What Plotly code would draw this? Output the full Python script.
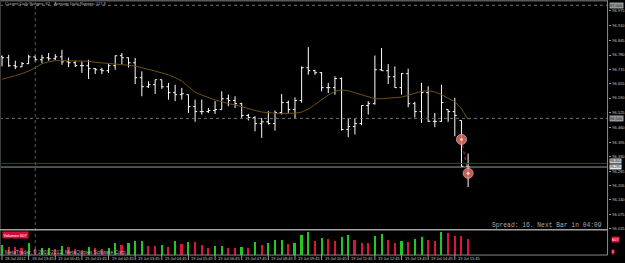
import plotly.graph_objects as go

W, H = 625, 263

# ---------------- data ----------------
bar_index = list(range(71))
open_ = [96.774, 96.768, 96.733, 96.728, 96.742, 96.772, 96.759, 96.768, 96.764, 96.772,
         96.750, 96.746, 96.733, 96.733, 96.720, 96.715, 96.711, 96.733, 96.777, 96.768,
         96.746, 96.680, 96.640, 96.649, 96.671, 96.640, 96.614, 96.605, 96.605, 96.552,
         96.530, 96.530, 96.535, 96.539, 96.587, 96.579, 96.565, 96.513, 96.504, 96.477,
         96.485, 96.477, 96.526, 96.570, 96.539, 96.579, 96.724, 96.711, 96.702, 96.636,
         96.636, 96.676, 96.451, 96.464, 96.477, 96.557, 96.565, 96.715, 96.711, 96.684,
         96.636, 96.698, 96.565, 96.530, 96.614, 96.487, 96.487, 96.539, 96.530, 96.491,
         96.288]
high = [96.778, 96.781, 96.755, 96.749, 96.781, 96.781, 96.781, 96.789, 96.784, 96.803,
        96.769, 96.755, 96.752, 96.759, 96.723, 96.723, 96.740, 96.778, 96.789, 96.769,
        96.767, 96.708, 96.664, 96.671, 96.671, 96.657, 96.649, 96.635, 96.605, 96.583,
        96.583, 96.546, 96.576, 96.620, 96.605, 96.598, 96.569, 96.520, 96.509, 96.502,
        96.532, 96.535, 96.608, 96.579, 96.593, 96.730, 96.815, 96.715, 96.705, 96.657,
        96.686, 96.681, 96.502, 96.499, 96.558, 96.576, 96.778, 96.811, 96.740, 96.730,
        96.701, 96.720, 96.573, 96.657, 96.642, 96.524, 96.649, 96.539, 96.591, 96.491,
        96.344]
low = [96.730, 96.728, 96.718, 96.727, 96.740, 96.749, 96.745, 96.755, 96.758, 96.737,
       96.727, 96.727, 96.701, 96.674, 96.696, 96.696, 96.701, 96.715, 96.740, 96.725,
       96.652, 96.598, 96.635, 96.608, 96.631, 96.583, 96.576, 96.583, 96.524, 96.485,
       96.517, 96.524, 96.520, 96.539, 96.554, 96.546, 96.502, 96.491, 96.443, 96.414,
       96.473, 96.446, 96.517, 96.524, 96.499, 96.569, 96.693, 96.693, 96.620, 96.612,
       96.605, 96.446, 96.417, 96.429, 96.470, 96.517, 96.561, 96.711, 96.652, 96.635,
       96.605, 96.549, 96.504, 96.480, 96.485, 96.461, 96.485, 96.485, 96.421, 96.285,
       96.197]
close = [96.768, 96.733, 96.728, 96.742, 96.772, 96.759, 96.768, 96.764, 96.772, 96.750,
         96.746, 96.733, 96.733, 96.720, 96.715, 96.711, 96.733, 96.777, 96.768, 96.746,
         96.680, 96.640, 96.649, 96.671, 96.640, 96.614, 96.605, 96.609, 96.552, 96.530,
         96.530, 96.535, 96.539, 96.587, 96.579, 96.565, 96.513, 96.504, 96.477, 96.485,
         96.477, 96.526, 96.570, 96.539, 96.579, 96.724, 96.711, 96.702, 96.636, 96.636,
         96.676, 96.451, 96.464, 96.477, 96.557, 96.565, 96.715, 96.711, 96.684, 96.636,
         96.698, 96.565, 96.530, 96.614, 96.487, 96.487, 96.570, 96.530, 96.513, 96.288,
         96.285]
moving_average = [96.673, 96.680, 96.689, 96.698, 96.709, 96.724, 96.742, 96.750, 96.755, 96.755,
                  96.755, 96.755, 96.755, 96.753, 96.748, 96.746, 96.743, 96.741, 96.737, 96.735,
                  96.731, 96.725, 96.717, 96.709, 96.702, 96.693, 96.680, 96.665, 96.640, 96.616,
                  96.603, 96.592, 96.582, 96.574, 96.565, 96.560, 96.551, 96.543, 96.535, 96.528,
                  96.524, 96.523, 96.522, 96.522, 96.523, 96.528, 96.541, 96.561, 96.583, 96.603,
                  96.620, 96.626, 96.622, 96.613, 96.602, 96.594, 96.587, 96.587, 96.589, 96.591,
                  96.594, 96.602, 96.612, 96.620, 96.622, 96.617, 96.605, 96.590, 96.574, 96.543,
                  96.495]
volume = [400, 323, 297, 271, 452, 240, 250, 258, 232, 361,
          297, 232, 194, 323, 258, 232, 271, 452, 387, 452,
          529, 535, 361, 355, 387, 323, 542, 426, 490, 485,
          387, 258, 361, 365, 271, 258, 323, 271, 490, 387,
          452, 581, 593, 413, 464, 774, 877, 555, 645, 606,
          555, 684, 787, 581, 464, 460, 748, 813, 581, 464,
          529, 520, 619, 684, 581, 542, 877, 851, 735, 730,
          607]

time_tick_index = [0, 4, 8, 12, 16, 20, 24, 28, 32, 36, 40, 44, 48, 52, 56, 60, 64, 68]
time_tick_labels = ["18 Jul 2012", "18 Jul 23:45", "19 Jul 00:45", "19 Jul 01:45",
                    "19 Jul 02:45", "19 Jul 03:45", "19 Jul 04:45", "19 Jul 05:45",
                    "19 Jul 06:45", "19 Jul 07:45", "19 Jul 08:45", "19 Jul 09:45",
                    "19 Jul 10:45", "19 Jul 11:45", "19 Jul 12:45", "19 Jul 13:45",
                    "19 Jul 14:45", "19 Jul 15:45"]
price_tick_values = [96.975, 96.910, 96.845, 96.780, 96.715, 96.655, 96.590, 96.525,
                     96.460, 96.395, 96.330, 96.265, 96.205, 96.140, 96.075, 96.015]
price_tick_labels = ["96.975", "96.910", "96.845", "96.780", "96.715", "96.655", "96.590",
                     "96.525", "96.460", "96.395", "96.330", "96.265", "96.205", "96.140",
                     "96.075", "96.015"]
level_lines = [97.000, 96.500]
level_labels = ["97.000", "96.500"]
separator_index = [5]
trade_index = [69, 70]
trade_price = [96.407, 96.257]
bid_price = 96.285
ask_price = 96.301
current_volume = 607

# ---------------- layout geometry ----------------
def py(pix):          # pixel row -> paper fraction
    return 1 - pix / H

XR = 609.5 / W
main_dom = [py(230), py(2)]
vol_dom = [py(256), py(231)]
x_range = [-0.3, 90.94]
y_range = [96.0105, 97.0146]
vol_range = [0, 967]

LBL = "#c8c8c8"
FRAME = "#8c8c8c"
FONT = "Liberation Sans"

fig = go.Figure()

# volume bars (green when volume rises, red otherwise)
vol_colors = ["#22c822" if i == 0 or volume[i] > volume[i - 1] else "#dc143c"
              for i in range(len(volume))]
fig.add_trace(go.Bar(x=bar_index, y=volume, marker_color=vol_colors, marker_line_width=0,
                     width=0.3, xaxis="x2", yaxis="y2", hoverinfo="skip"))

# moving average
fig.add_trace(go.Scatter(x=bar_index, y=moving_average, mode="lines",
                         line=dict(color="#6e5012", width=1), hoverinfo="skip"))

# OHLC bars
fig.add_trace(go.Ohlc(x=bar_index, open=open_, high=high, low=low, close=close,
                      increasing_line_color="#ffffff", decreasing_line_color="#ffffff",
                      line_width=1, tickwidth=0.3, hoverinfo="skip"))

# trade markers
fig.add_trace(go.Scatter(x=trade_index, y=trade_price, mode="lines",
                         line=dict(color="#c83030", width=1, dash="dot"), hoverinfo="skip"))
fig.add_trace(go.Scatter(x=trade_index, y=trade_price, mode="markers",
                         marker=dict(size=10, color="#e07070", opacity=0.85,
                                     line=dict(color="#f0a0a0", width=1)), hoverinfo="skip"))
fig.add_trace(go.Scatter(x=trade_index, y=trade_price, mode="markers",
                         marker=dict(size=3, color="#ffd090"), hoverinfo="skip"))

shapes = []
# level dotted lines
for lv in level_lines:
    shapes.append(dict(type="line", xref="paper", yref="y", x0=0, x1=XR, y0=lv, y1=lv,
                       line=dict(color="#707070", width=1, dash="dot")))
# bid / ask lines
shapes.append(dict(type="line", xref="paper", yref="y", x0=0, x1=XR, y0=ask_price, y1=ask_price,
                   line=dict(color="#1f4f1f", width=1)))
shapes.append(dict(type="line", xref="paper", yref="y", x0=0, x1=XR, y0=bid_price, y1=bid_price,
                   line=dict(color="#8e9aa6", width=1)))
# period separator
for s in separator_index:
    shapes.append(dict(type="line", xref="x", yref="paper", x0=s, x1=s, y0=vol_dom[0], y1=main_dom[1],
                       line=dict(color="#5a5a5a", width=1, dash="dot")))
# frame
shapes += [
    dict(type="line", xref="paper", yref="paper", x0=XR, x1=XR, y0=vol_dom[0], y1=1,
         line=dict(color=FRAME, width=1)),
    dict(type="line", xref="paper", yref="paper", x0=0, x1=XR, y0=py(0.8), y1=py(0.8),
         line=dict(color="#5a5a5a", width=1.5)),
    dict(type="line", xref="paper", yref="paper", x0=0.5 / W, x1=0.5 / W, y0=vol_dom[0], y1=1,
         line=dict(color="#3c3c3c", width=1)),
    dict(type="line", xref="paper", yref="paper", x0=0, x1=XR, y0=py(230.7), y1=py(230.7),
         line=dict(color="#a0a0a0", width=1.6)),
    dict(type="line", xref="paper", yref="paper", x0=0, x1=XR, y0=py(256), y1=py(256),
         line=dict(color="#8a8a8a", width=1)),
]
# time-axis tick marks
for i in time_tick_index:
    shapes.append(dict(type="line", xref="x", yref="paper", x0=i, x1=i, y0=py(256), y1=py(261),
                       line=dict(color="#9a9a9a", width=1)))

ann = []
for i, t in zip(time_tick_index, time_tick_labels):
    ann.append(dict(x=i, y=py(259), xref="x", yref="paper", text=t, showarrow=False,
                    xanchor="left", yanchor="middle", xshift=1,
                    font=dict(family=FONT, size=4, color=LBL)))
# highlighted level labels
for lv, lt in zip(level_lines, level_labels):
    ann.append(dict(x=XR, y=lv, xref="paper", yref="y", text=lt, showarrow=False,
                    xanchor="left", yanchor="middle", xshift=1, bgcolor="#9a9a9a",
                    borderpad=0, font=dict(family=FONT, size=4, color="#101010")))
ann.append(dict(x=XR, y=ask_price, xref="paper", yref="y", text=f"{ask_price:.3f}", showarrow=False,
                xanchor="left", yanchor="bottom", xshift=1, yshift=-0.5, bgcolor="#c8c8c8",
                borderpad=0, font=dict(family=FONT, size=3.5, color="#101010")))
ann.append(dict(x=XR, y=bid_price, xref="paper", yref="y", text=f"{bid_price:.3f}", showarrow=False,
                xanchor="left", yanchor="middle", xshift=1, bgcolor="#e8e8e8",
                borderpad=0, font=dict(family=FONT, size=3.5, color="#101010")))
# volume labels
ann.append(dict(x=2 / W, y=py(236), xref="paper", yref="paper", text=f"Volumes {current_volume}",
                showarrow=False, xanchor="left", yanchor="middle", bgcolor="#d0103a", borderpad=0.5,
                font=dict(family=FONT, size=4, color="#ffffff")))
ann.append(dict(x=XR, y=current_volume, xref="paper", yref="y2", text=f"{current_volume}",
                showarrow=False, xanchor="left", yanchor="middle", xshift=3, bgcolor="#d0103a",
                borderpad=0, font=dict(family=FONT, size=4, color="#ffffff")))
ann.append(dict(x=XR, y=0, xref="paper", yref="y2", text="0",
                showarrow=False, xanchor="left", yanchor="bottom", xshift=3, bgcolor="#d0103a",
                borderpad=0, font=dict(family=FONT, size=3, color="#ffffff")))
# texts
ann.append(dict(x=3 / W, y=py(3.5), xref="paper", yref="paper", text="Current Daily Ranges: 62",
                showarrow=False, xanchor="left", yanchor="middle",
                font=dict(family=FONT, size=4, color="#b4b4b4")))
ann.append(dict(x=52 / W, y=py(3.5), xref="paper", yref="paper", text="Average Daily Ranges: 117.8",
                showarrow=False, xanchor="left", yanchor="middle",
                font=dict(family=FONT, size=4, color="#b4b4b4")))
ann.append(dict(x=606 / W, y=py(226.5), xref="paper", yref="paper",
                text="Spread: 16. Next Bar in 04:09", showarrow=False, xanchor="right",
                yanchor="middle", font=dict(family="Liberation Mono", size=6.3, color="#a8a8a8")))
ann.append(dict(x=3 / W, y=py(252.5), xref="paper", yref="paper",
                text="MetaTrader, © 2001-2012, MetaQuotes Software Corp.", showarrow=False,
                xanchor="left", yanchor="middle",
                font=dict(family=FONT, size=5, color="#b0b0b0")))

fig.update_layout(
    width=W, height=H, margin=dict(l=0, r=0, t=0, b=0),
    paper_bgcolor="#000000", plot_bgcolor="#000000",
    showlegend=False, bargap=0,
    xaxis=dict(domain=[0, XR], range=x_range, anchor="y", showticklabels=False, showgrid=False,
               zeroline=False, showline=False, ticks="", rangeslider=dict(visible=False)),
    xaxis2=dict(domain=[0, XR], range=x_range, anchor="y2", showticklabels=False, showgrid=False,
                zeroline=False, showline=False, ticks=""),
    yaxis=dict(domain=main_dom, range=y_range, anchor="x", side="right", showgrid=False,
               zeroline=False, showline=False, tickmode="array", tickvals=price_tick_values,
               ticktext=price_tick_labels, ticks="outside", ticklen=2, tickcolor="#9a9a9a",
               tickfont=dict(family=FONT, size=4, color=LBL), ticklabelstandoff=1),
    yaxis2=dict(domain=vol_dom, range=vol_range, anchor="x2", side="right", showgrid=False,
                zeroline=False, showline=False, showticklabels=False, ticks=""),
    shapes=shapes, annotations=ann,
)

fig.write_html("out.html")
